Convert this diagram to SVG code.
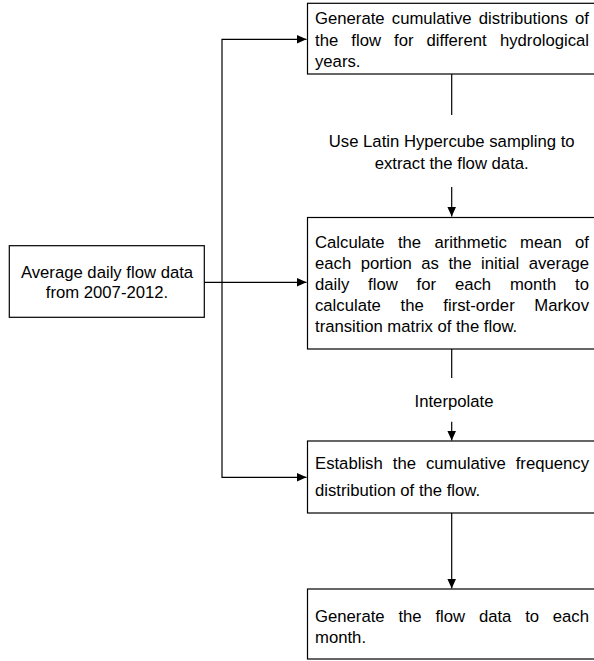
<svg xmlns="http://www.w3.org/2000/svg" width="594" height="661" viewBox="0 0 594 661">
<style>
  .box { fill: #fff; stroke: #000; stroke-width: 1.2; }
  .t { font-family: "Liberation Sans", Arial, sans-serif; font-size: 16.7px; fill: #000; }
  .c { text-anchor: middle; }
  .e { text-anchor: end; }
  .ln { fill: none; stroke: #000; stroke-width: 1.2; }
</style>
<defs>
  <marker id="ah" markerUnits="userSpaceOnUse" markerWidth="11" markerHeight="10" refX="10" refY="4.5" orient="auto">
    <path d="M0,0 L10,4.5 L0,9 z" fill="#000"/>
  </marker>
</defs>
<rect width="594" height="661" fill="#fff"/>

<g id="connectors">
  <path class="ln" d="M222,282.3 L222,39.3 L306.5,39.3" marker-end="url(#ah)"/>
  <path class="ln" d="M222,282.3 L222,477.3 L306.5,477.3" marker-end="url(#ah)"/>
  <path class="ln" d="M204,282.3 L306.5,282.3" marker-end="url(#ah)"/>
  <path class="ln" d="M451.7,74 L451.7,115"/>
  <path class="ln" d="M451.7,187 L451.7,216.5" marker-end="url(#ah)"/>
  <path class="ln" d="M451.7,349 L451.7,378"/>
  <path class="ln" d="M451.7,421.7 L451.7,440.5" marker-end="url(#ah)"/>
  <path class="ln" d="M451.7,513 L451.7,588.5" marker-end="url(#ah)"/>
  <text class="t c" x="451.7" y="147">Use Latin Hypercube sampling to</text>
  <text class="t c" x="451.7" y="168.5">extract the flow data.</text>
  <text class="t c" x="454" y="407">Interpolate</text>
</g>

<g id="n1">
  <rect class="box" x="307.5" y="3.3" width="300" height="70.7"/>
  <text class="t" y="24"><tspan x="315">Generate</tspan><tspan x="391.8">cumulative</tspan><tspan x="478.8">distributions</tspan></text>
  <text class="t e" x="589" y="24">of</text>
  <text class="t" y="45.5"><tspan x="315">the</tspan><tspan x="351.3">flow</tspan><tspan x="394">for</tspan><tspan x="426.6">different</tspan></text>
  <text class="t e" x="589" y="45.5">hydrological</text>
  <text class="t" x="315" y="67">years.</text>
</g>

<g id="n0">
  <rect class="box" x="9.3" y="245.7" width="195" height="71.6"/>
  <text class="t c" x="107" y="277.7">Average daily flow data</text>
  <text class="t c" x="107" y="297.7">from 2007-2012.</text>
</g>

<g id="n2">
  <rect class="box" x="307.5" y="217.5" width="300" height="131.5"/>
  <text class="t" y="247.5"><tspan x="315">Calculate</tspan><tspan x="397.9">the</tspan><tspan x="434.4">arithmetic</tspan><tspan x="520.1">mean</tspan></text>
  <text class="t e" x="589" y="247.5">of</text>
  <text class="t" y="268.5"><tspan x="315">each</tspan><tspan x="360.7">portion</tspan><tspan x="421.3">as</tspan><tspan x="448.4">the</tspan><tspan x="481.1">initial</tspan></text>
  <text class="t e" x="589" y="268.5">average</text>
  <text class="t" y="289.5"><tspan x="315">daily</tspan><tspan x="368.1">flow</tspan><tspan x="416.6">for</tspan><tspan x="454.9">each</tspan><tspan x="509.9">month</tspan></text>
  <text class="t e" x="589" y="289.5">to</text>
  <text class="t" y="310.5"><tspan x="315">calculate</tspan><tspan x="400.5">the</tspan><tspan x="443.3">first-order</tspan></text>
  <text class="t e" x="589" y="310.5">Markov</text>
  <text class="t" x="315" y="331.5">transition matrix of the flow.</text>
</g>

<g id="n3">
  <rect class="box" x="307.5" y="441" width="300" height="72"/>
  <text class="t" y="469"><tspan x="315">Establish</tspan><tspan x="392.8">the</tspan><tspan x="426">cumulative</tspan></text>
  <text class="t e" x="589" y="469">frequency</text>
  <text class="t" x="315" y="496">distribution of the flow.</text>
</g>

<g id="n4">
  <rect class="box" x="307.5" y="589" width="300" height="70"/>
  <text class="t" y="621.7"><tspan x="315">Generate</tspan><tspan x="398.4">the</tspan><tspan x="435.4">flow</tspan><tspan x="478.9">data</tspan><tspan x="525.2">to</tspan></text>
  <text class="t e" x="589" y="621.7">each</text>
  <text class="t" x="315" y="642.7">month.</text>
</g>
</svg>
